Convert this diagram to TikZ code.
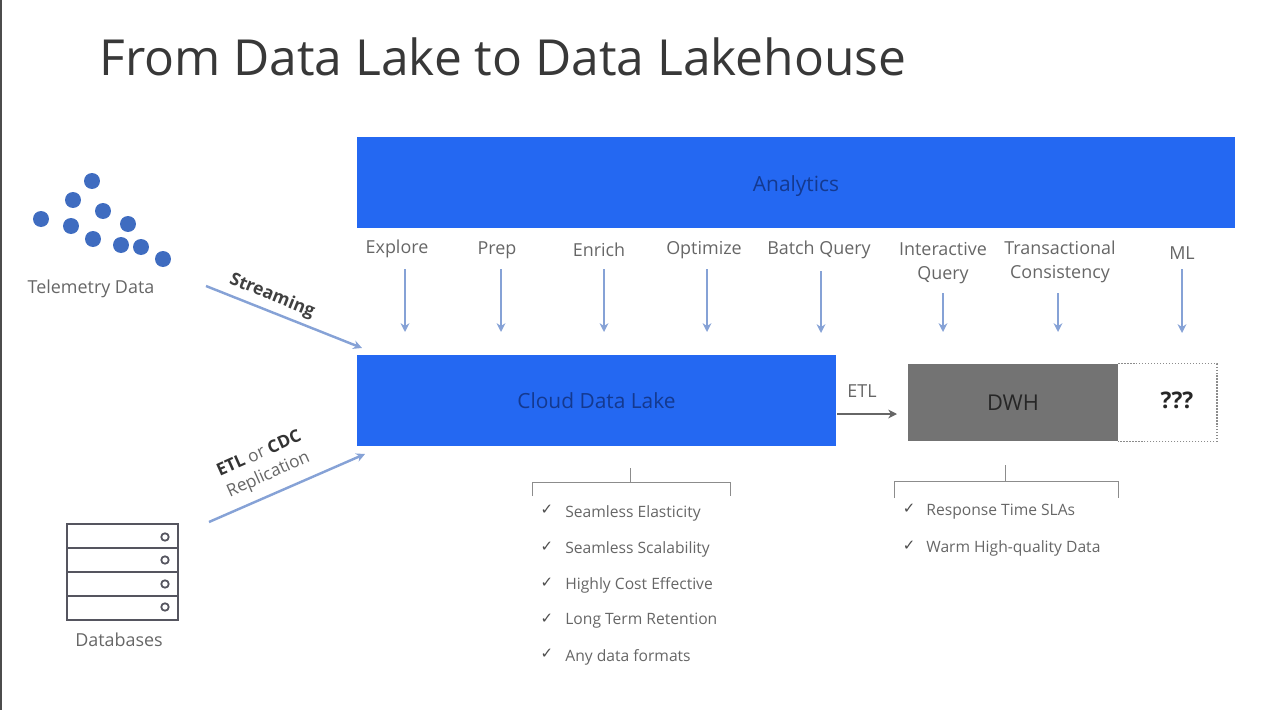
\documentclass[tikz,border=0pt]{standalone}
\usepackage{fontspec}
\setmainfont{Open Sans}
\newfontfamily\checkfont{DejaVu Sans}
\usepackage{tikz}
\usetikzlibrary{arrows.meta,positioning,calc}

\definecolor{ibmblue}{HTML}{2468F2}
\definecolor{navytext}{HTML}{14398F}
\definecolor{flowblue}{HTML}{86A2D6}
\definecolor{dotblue}{HTML}{3F6CC0}
\definecolor{dwhgray}{HTML}{737373}
\definecolor{labelgray}{HTML}{666666}
\definecolor{rackgray}{HTML}{55555F}

\begin{document}
\begin{tikzpicture}[
    x=0.02cm, y=-0.02cm,
    band/.style={fill=ibmblue, inner sep=0, font=\fontsize{11.9}{14}\selectfont, text=navytext},
    lbl/.style={font=\fontsize{10.2}{13.5}\selectfont, text=labelgray, align=center, inner sep=0},
    item/.style={anchor=west, font=\fontsize{8.9}{11}\selectfont, text=labelgray, inner sep=0},
    tick/.style={anchor=center, font=\checkfont\fontsize{8.5}{10}\selectfont, text=black!70, inner sep=0},
    dot/.style={circle, fill=dotblue, minimum size=0.32cm, inner sep=0},
    led/.style={circle, draw=rackgray, line width=1pt, minimum size=0.15cm, inner sep=0},
    flow/.style={-{Stealth[length=5pt,width=5pt]}, line width=1.4pt, flowblue},
    brace/.style={draw=black!45, line width=0.5pt}
]
\useasboundingbox (0,0) rectangle (1286,710);
\draw[line width=1.2pt, black!70] (1,0) -- (1,710);

\node[anchor=west, font=\fontsize{28.3}{32}\selectfont, text=black!78, inner sep=0] (title) at (99,57) {From Data Lake to Data Lakehouse};

% main boxes
\node[band, minimum width=17.56cm, minimum height=1.82cm, text depth=0pt] (analytics) at (796,182.5) {\raisebox{-1.5pt}{Analytics}};
\node[band, minimum width=9.58cm, minimum height=1.82cm] (lake) at (596.5,400.5) {Cloud Data Lake};
\node[fill=dwhgray, minimum width=4.2cm, minimum height=1.54cm, inner sep=0, font=\fontsize{12.4}{14}\selectfont, text=black!85] (dwh) at (1013,402.5) {DWH};
\node[minimum width=1.96cm, minimum height=1.54cm, right=0cm of dwh, inner sep=0] (unknown) {};
\draw[black!45, densely dotted, line width=0.7pt] (unknown.north west) -- (unknown.north east) -- (unknown.south east) -- (unknown.south west);
\node[font=\bfseries\fontsize{13}{15}\selectfont, text=black!85, inner sep=0] (qmarks) at (1177,400) {???};

% sources
\node[dot] (d1) at (92,181) {};
\node[dot] (d2) at (73,200) {};
\node[dot] (d3) at (103,211) {};
\node[dot] (d4) at (41,219) {};
\node[dot] (d5) at (128,224) {};
\node[dot] (d6) at (71,226) {};
\node[dot] (d7) at (93,239) {};
\node[dot] (d8) at (121,245) {};
\node[dot] (d9) at (141,247) {};
\node[dot] (d10) at (163,259) {};
\node[lbl] (telemetry) at (91,289) {Telemetry Data};

\draw[rackgray, line width=1.1pt] (67,524) rectangle (178,620);
\draw[rackgray, line width=1.1pt] (67,548) -- (178,548);
\draw[rackgray, line width=1.1pt] (67,572) -- (178,572);
\draw[rackgray, line width=1.1pt] (67,596) -- (178,596);
\node[led] (led1) at (165,537) {};
\node[led] (led2) at (165,560) {};
\node[led] (led3) at (165,584) {};
\node[led] (led4) at (165,607) {};
\node[lbl] (databases) at (119,640) {Databases};

\coordinate (streamfrom) at (206,286);
\coordinate (streamto) at (362,348);
\coordinate (replfrom) at (209,522);
\coordinate (replto) at (365,454);
\draw[flow] (streamfrom) -- (streamto);
\draw[flow] (replfrom) -- (replto);
\node[font=\bfseries\fontsize{10}{12}\selectfont, text=black!75, rotate=-22, inner sep=0] (streaming) at (272,296) {Streaming};
\node[font=\fontsize{9.8}{13}\selectfont, text=labelgray, rotate=24, align=center, inner sep=0] (replication) at (264,465) {\textcolor{black!80}{\textbf{ETL}} or \textcolor{black!80}{\textbf{CDC}}\\Replication};

% workloads
\node[lbl] (explore) at (397,249) {Explore};
\node[lbl] (prep) at (497,250) {Prep};
\node[lbl] (enrich) at (599,250) {Enrich};
\node[lbl] (optimize) at (704,250) {Optimize};
\node[lbl] (batch) at (819,250) {Batch Query};
\node[lbl] (interactive) at (943,263) {Interactive\\Query};
\node[lbl] (transact) at (1060,262) {Transactional\\Consistency};
\node[lbl] (ml) at (1182,253) {ML};

\draw[flow] (405,269) coordinate (explorefrom) -- (405,332) coordinate (exploreto);
\draw[flow] (501,269) coordinate (prepfrom) -- (501,332) coordinate (prepto);
\draw[flow] (604,269) coordinate (enrichfrom) -- (604,332) coordinate (enrichto);
\draw[flow] (707,269) coordinate (optimizefrom) -- (707,332) coordinate (optimizeto);
\draw[flow] (821,271) coordinate (batchfrom) -- (821,333) coordinate (batchto);
\draw[flow] (943,293) coordinate (interactivefrom) -- (943,332) coordinate (interactiveto);
\draw[flow] (1058,293) coordinate (transactfrom) -- (1058,332) coordinate (transactto);
\draw[flow] (1182,269) coordinate (mlfrom) -- (1182,333) coordinate (mlto);

% etl hand-over
\coordinate (etlfrom) at (837,414);
\coordinate (etlto) at (897,414);
\draw[-{Stealth[length=5pt,width=5pt]}, line width=1.6pt, black!60] (etlfrom) -- (etlto);
\node[lbl] (etl) at (862,391) {ETL};

% lake properties
\draw[brace] (532,496) -- (532,482) -- (730,482) -- (730,496);
\draw[brace] (630,468) -- (630,482);
\node[tick] (c1) at (547,510) {✓};
\node[item] (p1) at (565,513) {Seamless Elasticity};
\node[tick] (c2) at (547,547) {✓};
\node[item] (p2) at (565,549) {Seamless Scalability};
\node[tick] (c3) at (547,583) {✓};
\node[item] (p3) at (565,585) {Highly Cost Effective};
\node[tick] (c4) at (547,619) {✓};
\node[item] (p4) at (565,621) {Long Term Retention};
\node[tick] (c5) at (547,654) {✓};
\node[item] (p5) at (565,657) {Any data formats};

% dwh properties
\draw[brace] (894,498) -- (894,481) -- (1118,481) -- (1118,498);
\draw[brace] (1005,465) -- (1005,481);
\node[tick] (c6) at (909,509) {✓};
\node[item] (q1) at (926,512) {Response Time SLAs};
\node[tick] (c7) at (909,546) {✓};
\node[item] (q2) at (926,548) {Warm High-quality Data};
\end{tikzpicture}
\end{document}
